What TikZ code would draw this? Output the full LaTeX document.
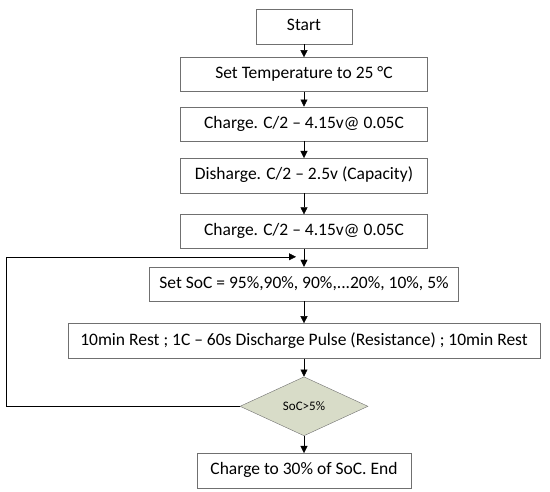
\documentclass[tikz,border=0pt]{standalone}
\usepackage{fontspec}
\setmainfont{Carlito}
\usetikzlibrary{arrows.meta, positioning, shapes.geometric}
\definecolor{boxline}{RGB}{112,112,112}
\definecolor{checkfill}{RGB}{216,220,200}

\begin{document}
\begin{tikzpicture}[
    x=1pt, y=1pt,
    stepbox/.style={draw=boxline, fill=white, font=\fontsize{17.5}{20}\selectfont,
      minimum height=34pt, inner xsep=0pt, text height=12pt, text depth=3.5pt},
    checkbox/.style={diamond, draw=boxline, fill=checkfill, font=\fontsize{13}{15}\selectfont,
      inner sep=0pt, minimum width=128pt, minimum height=59pt},
    flow/.style={draw=black, -{Triangle[length=7pt, width=7pt]}},
  ]
  \useasboundingbox (0,0) rectangle (550,-492);
  \node[stepbox, minimum width=96pt, minimum height=35pt] (start) at (304,-26.5) {Start};
  \node[stepbox, minimum width=247pt, below=13pt of start] (settemp) {Set Temperature to 25 °C};
  \node[stepbox, minimum width=247pt, below=15pt of settemp] (charge) {Charge. C/2 – 4.15v@ 0.05C};
  \node[stepbox, minimum width=247pt, below=17pt of charge, minimum height=35pt] (discharge) {Disharge. C/2 – 2.5v (Capacity)};
  \node[stepbox, minimum width=247pt, below=21pt of discharge] (recharge) {Charge. C/2 – 4.15v@ 0.05C};
  \node[stepbox, minimum width=309pt, below=18pt of recharge] (setsoc) {Set SoC = 95\%,90\%, 90\%,...20\%, 10\%, 5\%};
  \node[stepbox, minimum width=472pt, minimum height=35pt, below=22pt of setsoc] (pulse) {10min Rest ; 1C – 60s Discharge Pulse (Resistance) ; 10min Rest};
  \node[checkbox, below=18pt of pulse] (check) {SoC>5\%};
  \node[stepbox, minimum width=214pt, minimum height=35pt, below=17pt of check] (finish) {Charge to 30\% of SoC. End};

  \coordinate[above left=10pt and 8pt of setsoc.north] (looptip);

  \draw[flow] (start) -- (settemp);
  \draw[flow] (settemp) -- (charge);
  \draw[flow] (charge) -- (discharge);
  \draw[flow] (discharge) -- (recharge);
  \draw[flow] (recharge) -- (setsoc);
  \draw[flow] (setsoc) -- (pulse);
  \draw[flow] (pulse) -- (check);
  \draw[flow] (check) -- (finish);
  \draw[flow] (check.west) -- ++(-234,0) |- (looptip);
\end{tikzpicture}
\end{document}
